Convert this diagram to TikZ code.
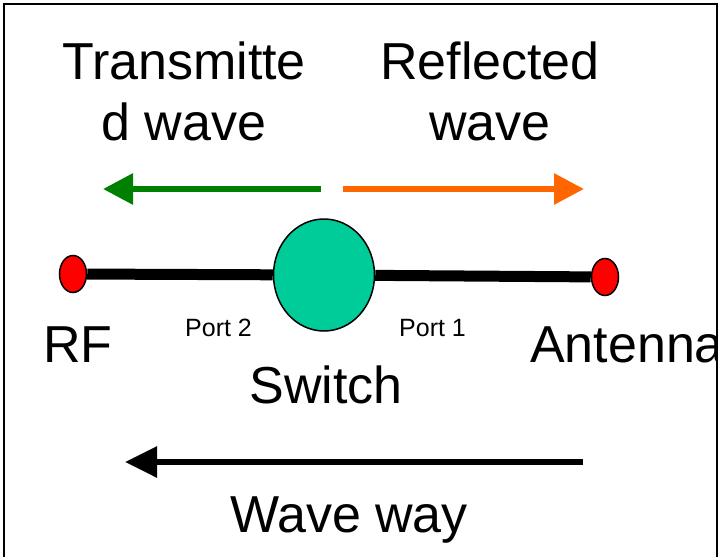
\documentclass[tikz,border=0pt]{standalone}
\usepackage{fontspec}
\setmainfont{Liberation Sans}
\usetikzlibrary{arrows.meta,shapes.geometric}
\definecolor{wgreen}{RGB}{0,128,0}
\definecolor{worange}{RGB}{255,102,0}
\definecolor{wteal}{RGB}{0,204,153}
\begin{document}
\begin{tikzpicture}[x=1pt,y=-1pt,
  big/.style={font=\fontsize{52}{61}\selectfont, inner sep=0pt, align=center},
  small/.style={font=\fontsize{25}{30}\selectfont, inner sep=0pt},
  portdot/.style={ellipse, draw=black, line width=1.5pt, fill=red, minimum width=27pt, minimum height=37pt, inner sep=0pt},
  switchnode/.style={ellipse, draw=black, line width=1.5pt, fill=wteal, minimum width=101pt, minimum height=112pt, inner sep=0pt},
  wire/.style={line width=11pt},
  warrow/.style={line width=6pt, -{Triangle[length=30pt,width=30pt]}}
]
\useasboundingbox (0,0) rectangle (721,557);
\begin{scope}
\clip (0,0) rectangle (716,557);
% arrows at the top
\coordinate (gs) at (321,189);
\coordinate (ge) at (103,189);
\coordinate (os) at (343,189);
\coordinate (oe) at (584,189);
\draw[warrow, wgreen] (gs) -- (ge);
\draw[warrow, worange] (os) -- (oe);
% line with ports
\node[portdot] (rf) at (73,274) {};
\node[portdot] (ant) at (605,277) {};
\node[switchnode] (sw) at (324,275) {};
\draw[wire] (rf) -- (sw);
\draw[wire] (sw) -- (ant);
% bottom arrow
\coordinate (bs) at (583,462);
\coordinate (be) at (125,462);
\draw[line width=6pt, -{Triangle[length=32pt,width=30pt]}] (bs) -- (be);
% texts
\node[big, anchor=base] (tw) at (184,140) {Transmitte\\d wave};
\node[big, anchor=base] (rw) at (490,140) {Reflected\\wave};
\node[big, anchor=base west] (rft) at (43,362) {RF};
\node[small, anchor=base west] (p2) at (185,336) {Port 2};
\node[small, anchor=base west] (p1) at (399,336) {Port 1};
\node[big, anchor=base] (swt) at (326,403) {Switch};
\node[big, anchor=base west] (antt) at (530,362) {Antenna};
\node[big, anchor=base] (ww) at (349,532) {Wave way};
\end{scope}
\draw[line width=2.5pt] (4,560) -- (4,4) -- (717,4) -- (717,560);
\end{tikzpicture}
\end{document}
